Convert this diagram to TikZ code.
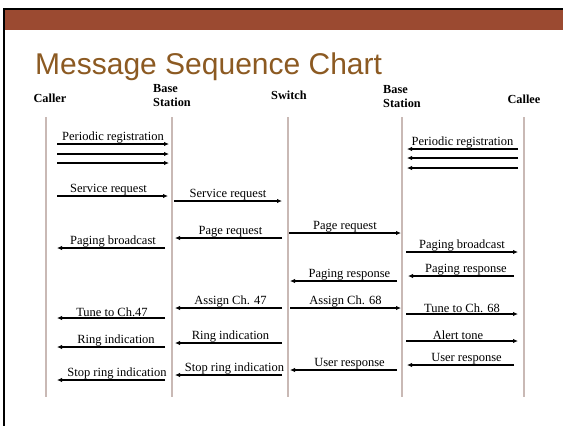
\documentclass[tikz,border=0pt]{standalone}
\usepackage{fontspec}
\setmainfont{Liberation Serif}
\newfontfamily\titlefont{Liberation Sans}
\usetikzlibrary{arrows.meta}
\definecolor{band}{HTML}{9B4A31}
\definecolor{titlec}{HTML}{8C5A22}
\definecolor{lifec}{HTML}{C9B9B5}
\tikzset{
  msg/.style={draw=black, line width=1.4pt, -{Latex[length=5pt,width=4.5pt]}},
  lbl/.style={midway, above, inner sep=0.4pt, font=\fontsize{12.5}{13}\selectfont},
  hdr/.style={font=\fontsize{12.3}{14}\selectfont\bfseries, inner sep=0pt, align=left},
  life/.style={draw=lifec, line width=1.5pt}
}
\begin{document}
\begin{tikzpicture}[x=1pt,y=-1pt]
\path[use as bounding box, fill=white] (0,0) rectangle (563,426);
% slide frame
\fill[band] (4,10) rectangle (563,30);
\draw[line width=2pt] (4,426) -- (4,9) -- (563,9);
\node[anchor=base west, inner sep=0pt, text=titlec, font=\titlefont\fontsize{30}{32}\selectfont] (title) at (35,74) {Message Sequence Chart};
% headers
\node[hdr] (caller) at (50,98) {Caller};
\node[hdr, anchor=west] (bs1) at (153,96) {Base\\Station};
\node[hdr] (sw) at (289,95) {Switch};
\node[hdr, anchor=west] (bs2) at (383,97) {Base\\Station};
\node[hdr] (callee) at (524,99) {Callee};
% lifelines
\foreach \n/\x in {lc/46, lb1/172, ls/288, lb2/402, le/524}{
  \coordinate (\n top) at (\x,117);
  \coordinate (\n bot) at (\x,397);
  \draw[life] (\n top) -- (\n bot);
}
% messages: name / start x / end x / y / label x shift / label
\foreach \n/\xa/\xb/\y/\dx/\t in {
  pa/57/169/144/0/Periodic registration,
  pb/57/169/154/0/{},
  pc/57/169/163/0/{},
  sra/57/168/196/-4/Service request,
  srb/174/282/201/0/Service request,
  pra/282/175/238/2/Page request,
  pba/165/57/248/2/Paging broadcast,
  qa/518/407/149/0/Periodic registration,
  qb/518/407/158/0/{},
  qc/518/407/168/0/{},
  prb/289/401/233/0/Page request,
  pbb/406/518/252/0/Paging broadcast,
  psa/514/408/276/5/Paging response,
  psb/397/290/281/6/Paging response,
  asb/290/401/308/0/Assign Ch. 68,
  tub/406/518/314/0/Tune to Ch. 68,
  alt/406/518/341/-4/Alert tone,
  ura/514/407/365/6/User response,
  urb/397/290/370/6/User response,
  asa/282/175/308/2/Assign Ch. 47,
  tua/165/57/318/1/Tune to Ch.47,
  ria/282/175/343/2/Ring indication,
  rib/165/57/347/5/Ring indication,
  sra2/282/175/375/6/Stop ring indication,
  srb2/165/57/380/6/Stop ring indication}{
  \coordinate (\n s) at (\xa,\y);
  \coordinate (\n e) at (\xb,\y);
  \draw[msg] (\n s) -- node[lbl, xshift=\dx pt] {\t} (\n e);
}
\end{tikzpicture}
\end{document}
